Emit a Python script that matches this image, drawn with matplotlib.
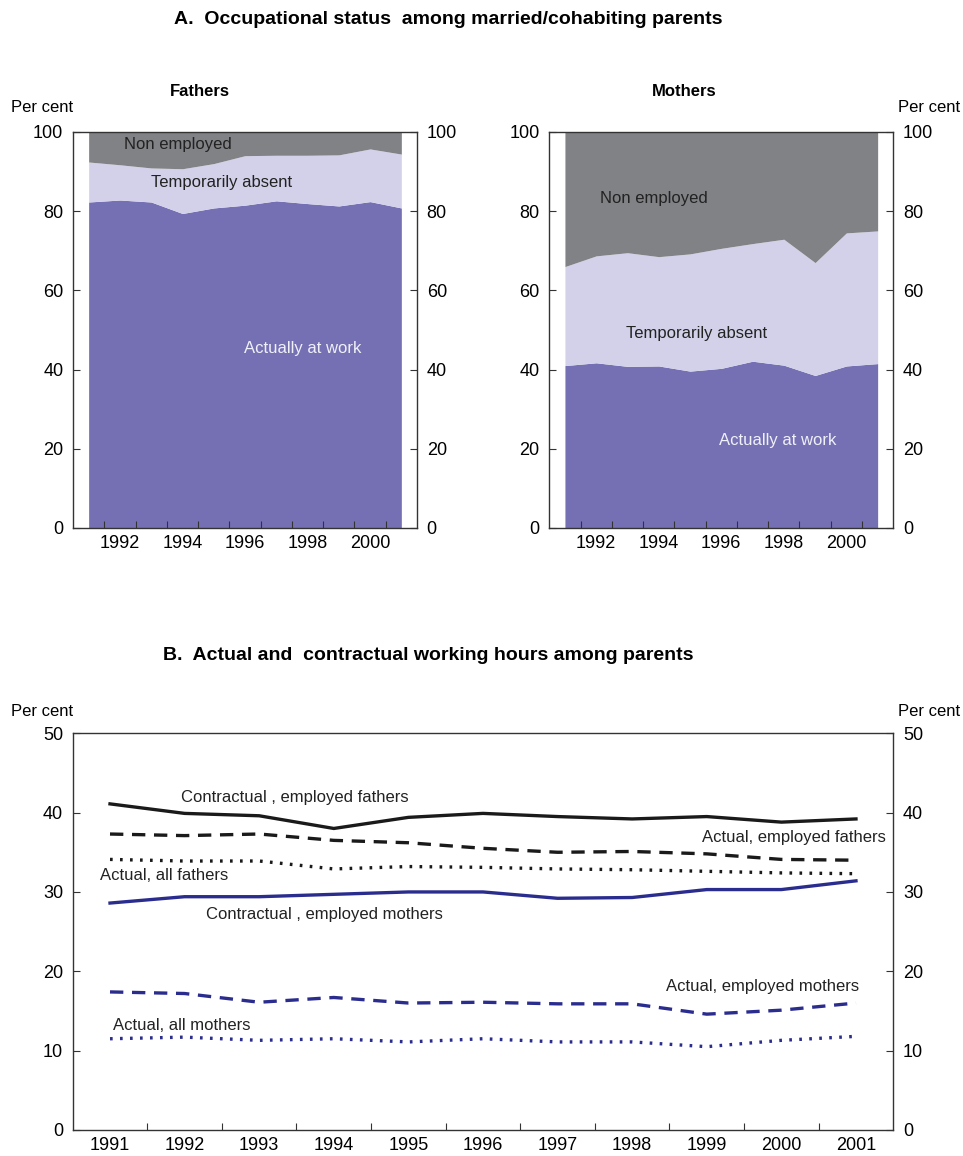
import numpy as np
import matplotlib.pyplot as plt
from matplotlib.ticker import FixedLocator

plt.rcParams['font.family'] = ['Liberation Sans', 'DejaVu Sans']
plt.rcParams['font.size'] = 12

years = np.arange(1991, 2002)

# Panel A: cumulative shares (per cent) - work / work + temporarily absent
fathers_work = [82.3, 82.8, 82.3, 79.4, 80.8, 81.5, 82.6, 81.9, 81.3, 82.4, 80.8]
fathers_employed = [92.4, 91.7, 90.9, 90.7, 92.0, 94.0, 94.1, 94.1, 94.2, 95.7, 94.4]
mothers_work = [41.0, 41.7, 40.8, 40.9, 39.6, 40.3, 42.1, 41.1, 38.5, 40.9, 41.5]
mothers_employed = [66.0, 68.7, 69.5, 68.5, 69.2, 70.6, 71.8, 72.9, 67.0, 74.5, 75.0]

# Panel B: weekly hours
contr_emp_fathers = [41.1, 39.9, 39.6, 38.0, 39.4, 39.9, 39.5, 39.2, 39.5, 38.8, 39.2]
actual_emp_fathers = [37.3, 37.1, 37.3, 36.5, 36.2, 35.5, 35.0, 35.1, 34.8, 34.1, 34.0]
actual_all_fathers = [34.1, 33.9, 33.9, 32.9, 33.2, 33.1, 32.9, 32.8, 32.6, 32.4, 32.3]
contr_emp_mothers = [28.6, 29.4, 29.4, 29.7, 30.0, 30.0, 29.2, 29.3, 30.3, 30.3, 31.4]
actual_emp_mothers = [17.4, 17.2, 16.1, 16.7, 16.0, 16.1, 15.9, 15.9, 14.6, 15.1, 16.0]
actual_all_mothers = [11.5, 11.7, 11.3, 11.5, 11.1, 11.5, 11.1, 11.1, 10.5, 11.3, 11.8]

c_work = '#7570b3'
c_absent = '#d3d1e9'
c_nonemp = '#808285'
c_navy = '#2b2d8e'
c_black = '#1a1a1a'
c_spine = '#333333'


def style_axes(ax, ymax, ystep, major_years):
    ax.set_xlim(1990.5, 2001.5)
    ax.set_ylim(0, ymax)
    ax.set_yticks(np.arange(0, ymax + 1, ystep))
    ax.xaxis.set_major_locator(FixedLocator(years[:-1] + 0.5))
    ax.set_xticklabels([])
    ax.xaxis.set_minor_locator(FixedLocator(major_years))
    ax.set_xticklabels([str(y) for y in major_years], minor=True)
    ax.tick_params(axis='x', which='major', direction='in', length=5,
                   color=c_spine, width=0.8)
    ax.tick_params(axis='x', which='minor', length=0, labelsize=13, pad=5)
    ax.tick_params(axis='y', direction='in', length=5, labelsize=13,
                   left=True, right=True, labelleft=True, labelright=True,
                   color=c_spine, width=0.8, pad=7)
    for s in ax.spines.values():
        s.set_color(c_spine)
        s.set_linewidth(1.0)
    ax.set_axisbelow(False)


fig = plt.figure(figsize=(9.63, 11.56), dpi=100)

ax_f = fig.add_axes([0.0758, 0.5433, 0.3572, 0.3426])
ax_m = fig.add_axes([0.5704, 0.5433, 0.3572, 0.3426])
ax_b = fig.add_axes([0.0755, 0.0225, 0.8521, 0.3432])

# ---- Panel A ----
for ax, work, emp in [(ax_f, fathers_work, fathers_employed),
                      (ax_m, mothers_work, mothers_employed)]:
    ax.fill_between(years, 0, work, color=c_work, lw=0, zorder=1)
    ax.fill_between(years, work, emp, color=c_absent, lw=0, zorder=1)
    ax.fill_between(years, emp, 100, color=c_nonemp, lw=0, zorder=1)
    style_axes(ax, 100, 20, list(range(1992, 2001, 2)))

ax_f.text(1993.85, 96.7, 'Non employed', ha='center', va='center', color='#222222')
ax_f.text(1995.26, 87.1, 'Temporarily absent', ha='center', va='center', color='#222222')
ax_f.text(1997.83, 45.2, 'Actually at work', ha='center', va='center', color='#f0f0f8')

ax_m.text(1993.83, 83.3, 'Non employed', ha='center', va='center', color='#222222')
ax_m.text(1995.2, 49.2, 'Temporarily absent', ha='center', va='center', color='#222222')
ax_m.text(1997.8, 22.2, 'Actually at work', ha='center', va='center', color='#f0f0f8')

fig.text(448 / 963, 1 - 20 / 1156, 'A.  Occupational status  among married/cohabiting parents',
         ha='center', va='center', fontweight='bold', fontsize=14)
fig.text(200 / 963, 1 - 91 / 1156, 'Fathers', ha='center', va='center', fontweight='bold')
fig.text(684 / 963, 1 - 91 / 1156, 'Mothers', ha='center', va='center', fontweight='bold')
fig.text(42 / 963, 1 - 108 / 1156, 'Per cent', ha='center', va='center')
fig.text(929 / 963, 1 - 108 / 1156, 'Per cent', ha='center', va='center')

# ---- Panel B ----
lw = 2.4
ax_b.plot(years, contr_emp_fathers, color=c_black, lw=lw)
ax_b.plot(years, actual_emp_fathers, color=c_black, lw=lw,
          linestyle=(0, (4, 2.6)), dash_capstyle='butt')
ax_b.plot(years, actual_all_fathers, color=c_black, lw=lw,
          linestyle=(0, (0.8, 2.2)), dash_capstyle='butt')
ax_b.plot(years, contr_emp_mothers, color=c_navy, lw=lw)
ax_b.plot(years, actual_emp_mothers, color=c_navy, lw=lw,
          linestyle=(0, (4, 2.6)), dash_capstyle='butt')
ax_b.plot(years, actual_all_mothers, color=c_navy, lw=lw,
          linestyle=(0, (0.8, 2.2)), dash_capstyle='butt')
style_axes(ax_b, 50, 10, list(years))

ax_b.text(1993.48, 41.9, 'Contractual , employed fathers', ha='center', va='center', color='#222222')
ax_b.text(2000.17, 36.9, 'Actual, employed fathers', ha='center', va='center', color='#222222')
ax_b.text(1991.72, 32.1, 'Actual, all fathers', ha='center', va='center', color='#222222')
ax_b.text(1993.87, 27.1, 'Contractual , employed mothers', ha='center', va='center', color='#222222')
ax_b.text(1999.75, 18.05, 'Actual, employed mothers', ha='center', va='center', color='#222222')
ax_b.text(1991.96, 13.2, 'Actual, all mothers', ha='center', va='center', color='#222222')

fig.text(428 / 963, 1 - 655 / 1156, 'B.  Actual and  contractual working hours among parents',
         ha='center', va='center', fontweight='bold', fontsize=14)
fig.text(42 / 963, 1 - 712 / 1156, 'Per cent', ha='center', va='center')
fig.text(929 / 963, 1 - 712 / 1156, 'Per cent', ha='center', va='center')

fig.savefig('out.png', dpi=100, facecolor='white')
